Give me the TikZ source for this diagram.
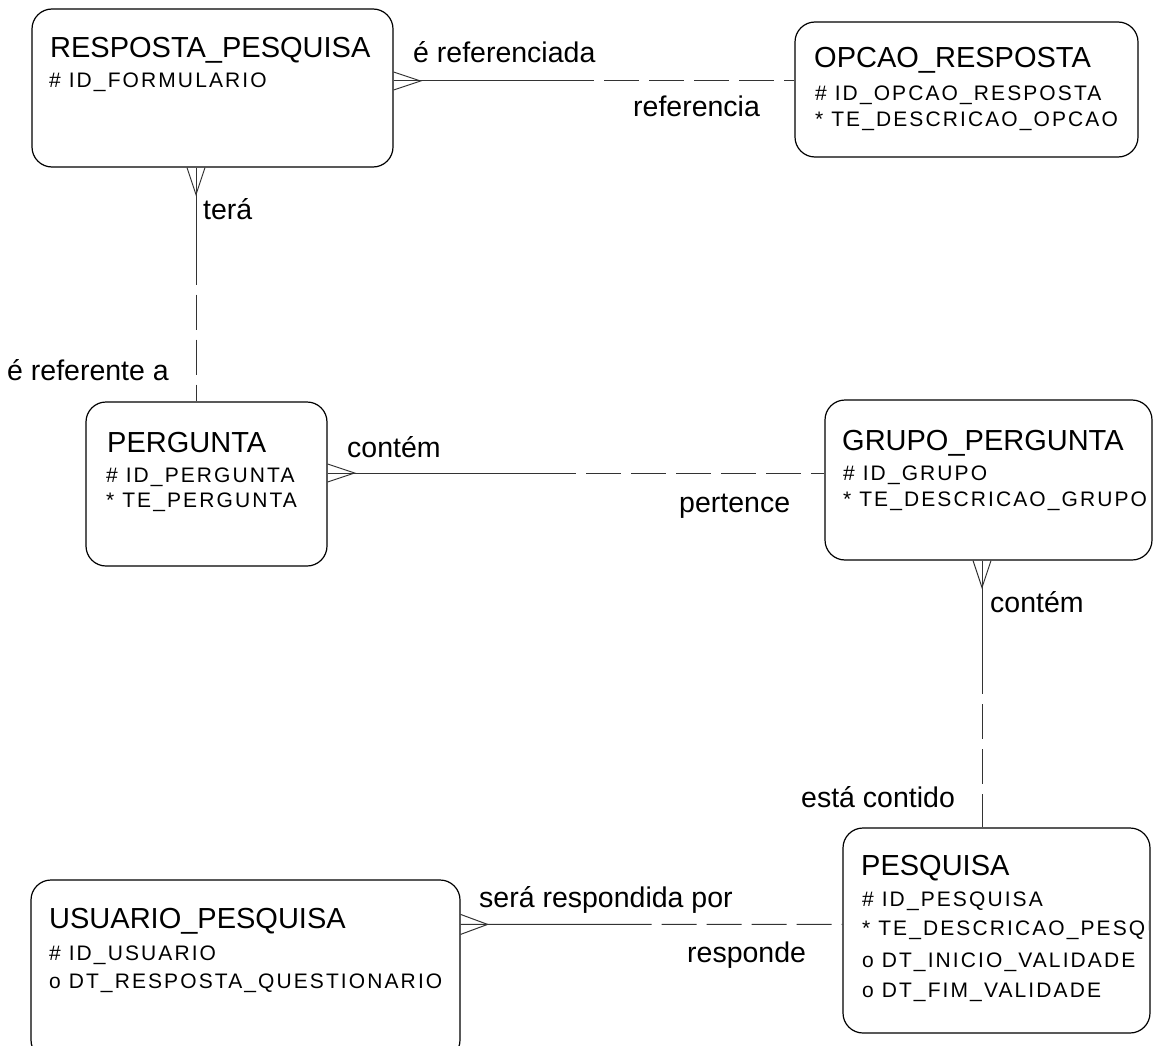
\documentclass[tikz,border=0pt]{standalone}
\usepackage{fontspec}
\setmainfont{Liberation Sans}
\newfontfamily\attrfont{Liberation Sans}[LetterSpace=10]
\usetikzlibrary{calc,fit}

\tikzset{
  entity/.style={draw, line width=1.2pt, rounded corners=20pt, inner sep=0pt},
  ename/.style={anchor=base west, inner sep=0pt, font=\fontsize{29}{30}\selectfont},
  eattr/.style={anchor=base west, inner sep=0pt, font=\attrfont\fontsize{21}{22}\selectfont},
  rlabel/.style={anchor=base west, inner sep=0pt, font=\fontsize{28.5}{30}\selectfont},
  mand/.style={line width=1pt, black!80},
  opt/.style={mand, dash pattern=on 35pt off 10pt, dash phase=35pt},
}

\begin{document}
\begin{tikzpicture}[x=1pt, y=-1pt]
  \useasboundingbox (0,0) rectangle (1170,1046);
  \clip (0,0) rectangle (1170,1046);

  % entities
  \node[entity, fit={(32,9) (393,167)}] (resposta) {};
  \node[entity, fit={(795,22) (1138,157)}] (opcao) {};
  \node[entity, fit={(86,402) (327,566)}] (pergunta) {};
  \node[entity, fit={(825,400) (1152,560)}] (grupo) {};
  \node[entity, fit={(31,880) (460,1060)}] (usuario) {};
  \node[entity, fit={(843,828) (1150,1033)}] (pesquisa) {};

  \node[ename] (resposta-t) at (50,58) {RESPOSTA\_PESQUISA};
  \node[eattr] (resposta-a1) at (49,88) {\# ID\_FORMULARIO};

  \node[ename] (opcao-t) at (814,68) {OPCAO\_RESPOSTA};
  \node[eattr] (opcao-a1) at (815,101) {\# ID\_OPCAO\_RESPOSTA};
  \node[eattr] (opcao-a2) at (815,127) {* TE\_DESCRICAO\_OPCAO};

  \node[ename] (pergunta-t) at (107,452) {PERGUNTA};
  \node[eattr] (pergunta-a1) at (106,482) {\# ID\_PERGUNTA};
  \node[eattr] (pergunta-a2) at (106,507) {* TE\_PERGUNTA};

  \node[ename] (grupo-t) at (842,450) {GRUPO\_PERGUNTA};
  \node[eattr] (grupo-a1) at (843,480) {\# ID\_GRUPO};
  \node[eattr] (grupo-a2) at (843,506) {* TE\_DESCRICAO\_GRUPO};

  \node[ename] (usuario-t) at (49,928) {USUARIO\_PESQUISA};
  \node[eattr] (usuario-a1) at (49,960) {\# ID\_USUARIO};
  \node[eattr] (usuario-a2) at (49,988) {o DT\_RESPOSTA\_QUESTIONARIO};

  \begin{scope}
    \clip (843,828) rectangle (1148,1033);
    \node[ename] (pesquisa-t) at (861,875) {PESQUISA};
    \node[eattr] (pesquisa-a1) at (862,906) {\# ID\_PESQUISA};
    \node[eattr] (pesquisa-a2) at (862,935) {* TE\_DESCRICAO\_PESQUISA};
    \node[eattr] (pesquisa-a3) at (862,967) {o DT\_INICIO\_VALIDADE};
    \node[eattr] (pesquisa-a4) at (862,997) {o DT\_FIM\_VALIDADE};
  \end{scope}

  % attachment points
  \coordinate (rp-o) at ([yshift=7pt]resposta.east);
  \coordinate (op-r) at (rp-o -| opcao.west);
  \coordinate (rp-p) at ([xshift=-16.5pt]resposta.south);
  \coordinate (pg-r) at (rp-p |- pergunta.north);
  \coordinate (pg-g) at ([yshift=11pt]pergunta.east);
  \coordinate (gr-p) at (pg-g -| grupo.west);
  \coordinate (gr-s) at ([xshift=-6.5pt]grupo.south);
  \coordinate (ps-g) at (gr-s |- pesquisa.north);
  \coordinate (us-s) at ([yshift=-45pt]usuario.north east);
  \coordinate (ps-u) at (us-s -| pesquisa.west);

  % relationships: solid half, dashed half
  \draw[mand] (rp-o) -- ($(rp-o)!.5!(op-r)$);
  \draw[opt] ($(rp-o)!.5!(op-r)$) -- (op-r);
  \draw[mand] (rp-p) -- ($(rp-p)!.5!(pg-r)$);
  \draw[opt] ($(rp-p)!.5!(pg-r)$) -- (pg-r);
  \draw[mand] (pg-g) -- ($(pg-g)!.5!(gr-p)$);
  \draw[opt] ($(pg-g)!.5!(gr-p)$) -- (gr-p);
  \draw[mand] (gr-s) -- ($(gr-s)!.5!(ps-g)$);
  \draw[opt] ($(gr-s)!.5!(ps-g)$) -- (ps-g);
  \draw[mand] (us-s) -- ($(us-s)!.5!(ps-u)$);
  \draw[opt] ($(us-s)!.5!(ps-u)$) -- (ps-u);

  % crow's feet
  \draw[mand] ([shift={(0,-9)}]rp-o) -- ([shift={(27,0)}]rp-o) -- ([shift={(0,9)}]rp-o);
  \draw[mand] ([shift={(-9,0)}]rp-p) -- ([shift={(0,27)}]rp-p) -- ([shift={(9,0)}]rp-p);
  \draw[mand] ([shift={(0,-9)}]pg-g) -- ([shift={(27,0)}]pg-g) -- ([shift={(0,9)}]pg-g);
  \draw[mand] ([shift={(-9,0)}]gr-s) -- ([shift={(0,27)}]gr-s) -- ([shift={(9,0)}]gr-s);
  \draw[mand] ([shift={(0,-10)}]us-s) -- ([shift={(27,0)}]us-s) -- ([shift={(0,10)}]us-s);

  % relationship names
  \node[rlabel] (l-ref1) at (413,63) {é referenciada};
  \node[rlabel] (l-ref2) at (633,117) {referencia};
  \node[rlabel] (l-tera) at (203,219) {terá};
  \node[rlabel] (l-refe) at (7,380) {é referente a};
  \node[rlabel] (l-cont1) at (347,457) {contém};
  \node[rlabel] (l-pert) at (679,512) {pertence};
  \node[rlabel] (l-cont2) at (990,612) {contém};
  \node[rlabel] (l-esta) at (801,807) {está contido};
  \node[rlabel] (l-sera) at (479,907) {será respondida por};
  \node[rlabel] (l-resp) at (687,962) {responde};
\end{tikzpicture}
\end{document}
